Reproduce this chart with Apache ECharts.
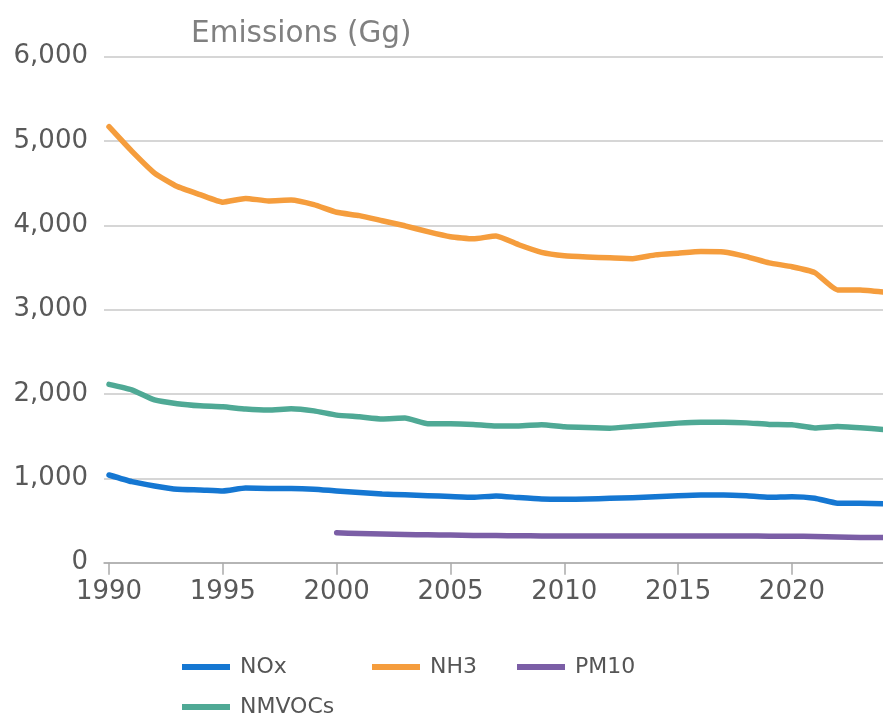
<!DOCTYPE html>
<html>
<head>
<meta charset="utf-8">
<script src="https://cdn.jsdelivr.net/npm/echarts@6/dist/echarts.min.js"></script>
<style>
html,body{margin:0;padding:0;background:#fff;}
#chart{width:883px;height:718px;}
</style>
</head>
<body>
<div id="chart"></div>
<script>
var years = [1990,1991,1992,1993,1994,1995,1996,1997,1998,1999,2000,2001,2002,2003,2004,2005,2006,2007,2008,2009,2010,2011,2012,2013,2014,2015,2016,2017,2018,2019,2020,2021,2022,2023,2024];
var nox = [1040,961,910,870,862,850,885,880,880,872,850,832,815,805,795,785,775,792,772,755,752,755,763,771,783,795,803,803,793,775,783,765,706,704,698];
var nh3 = [5170,4880,4620,4460,4365,4275,4320,4290,4300,4245,4155,4115,4055,3995,3925,3865,3840,3875,3770,3680,3640,3625,3615,3605,3650,3670,3690,3685,3630,3555,3510,3440,3235,3235,3210];
var nmvocs = [2115,2050,1930,1885,1860,1848,1822,1810,1825,1800,1750,1730,1705,1715,1648,1648,1640,1622,1622,1635,1612,1602,1595,1615,1635,1655,1665,1665,1658,1640,1635,1598,1615,1600,1580];
var pm10Years = [2000,2001,2002,2003,2004,2005,2006,2007,2008,2009,2010,2011,2012,2013,2014,2015,2016,2017,2018,2019,2020,2021,2022,2023,2024];
var pm10 = [355,345,340,335,330,327,324,322,320,318,316,316,316,316,316,316,316,316,316,315,314,312,305,300,298];
var xTicks = [1990,1995,2000,2005,2010,2015,2020];
var seriesNames = ['NOx','NH3','PM10','NMVOCs'];

function pairs(xs, ys){ return xs.map(function(x,i){ return [x, ys[i]]; }); }

var colors = {NOx:'#1577d2', NH3:'#f59d3d', PM10:'#7b5ea6', NMVOCs:'#4fa995'};
var font = 'DejaVu Sans';

function mkLegend(name, left, top){
  return {
    data:[name], left:left, top:top, padding:0, icon:'rect', itemWidth:48, itemHeight:6, itemGap:0,
    textStyle:{fontFamily:font, fontSize:22, color:'#555', padding:[0,0,0,5]}
  };
}

var chart = echarts.init(document.getElementById('chart'), null, {renderer:'canvas'});
chart.setOption({
  animation:false,
  backgroundColor:'#fff',
  title:{text:'Emissions (Gg)', left:186, top:14, textStyle:{fontFamily:font, fontSize:29.5, fontWeight:'normal', color:'#808080'}},
  legend:[
    mkLegend('NOx', 182, 656),
    mkLegend('NH3', 372, 656),
    mkLegend('PM10', 517, 656),
    mkLegend('NMVOCs', 182, 696)
  ],
  grid:{left:104, right:-6, top:56.7, bottom:155.3, containLabel:false},
  xAxis:{
    type:'value', min:1989.78, max:2024,
    axisLine:{show:true, lineStyle:{color:'#aaa', width:1.5}},
    axisTick:{show:true, length:12, lineStyle:{color:'#aaa', width:1.5}, customValues:xTicks},
    axisLabel:{fontFamily:font, fontSize:26, color:'#595959', margin:17, customValues:xTicks, formatter:function(v){return String(v);}},
    splitLine:{show:false}
  },
  yAxis:{
    type:'value', min:0, max:6000, interval:1000,
    axisLine:{show:false}, axisTick:{show:false},
    axisLabel:{fontFamily:font, fontSize:26, color:'#595959', margin:16, formatter:function(v){return v.toLocaleString('en-US');}},
    splitLine:{show:true, lineStyle:{color:'#c8c8c8', width:1.5}}
  },
  series:[
    {name:'NOx', type:'line', data:pairs(years, nox)},
    {name:'NH3', type:'line', data:pairs(years, nh3)},
    {name:'PM10', type:'line', data:pairs(pm10Years, pm10)},
    {name:'NMVOCs', type:'line', data:pairs(years, nmvocs)}
  ].map(function(s){
    s.showSymbol = false; s.symbol = 'none'; s.smooth = 0.15;
    s.lineStyle = {color:colors[s.name], width:5.5, cap:'round', join:'round'};
    s.itemStyle = {color:colors[s.name]};
    return s;
  })
});
</script>
</body>
</html>
